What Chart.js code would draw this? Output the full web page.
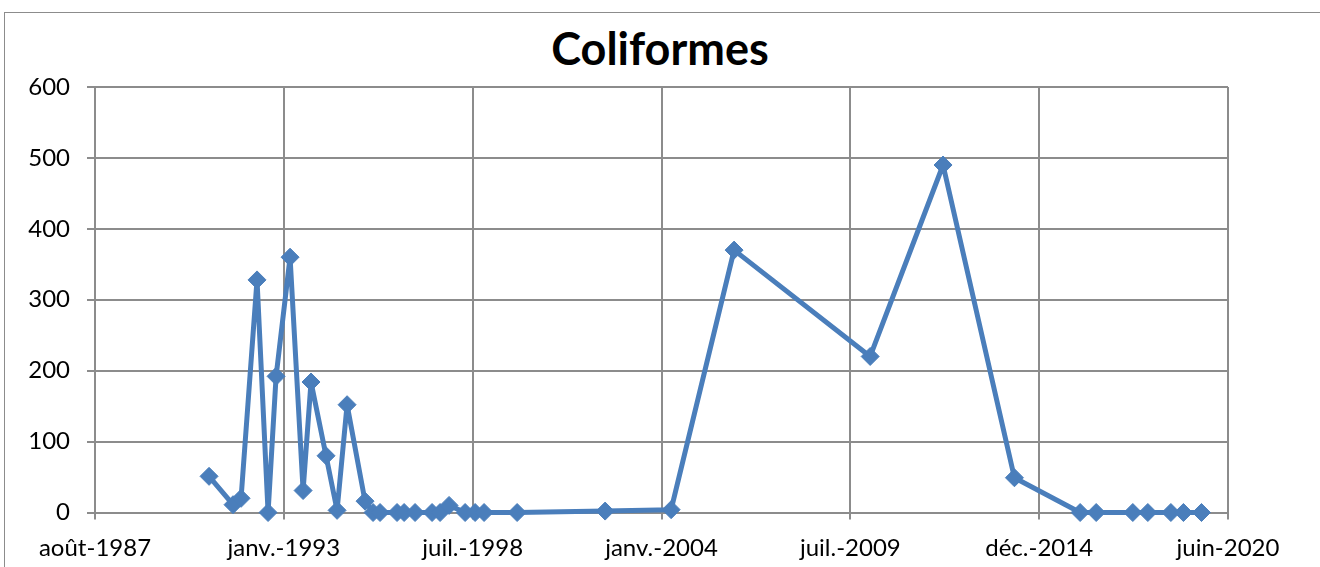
<!DOCTYPE html>
<html lang="fr">
<head>
<meta charset="utf-8">
<title>Coliformes</title>
<script src="https://cdn.jsdelivr.net/npm/chart.js@4"></script>
<style>
  html, body { margin: 0; padding: 0; background: #fff; overflow: hidden; }
  #wrap { position: relative; width: 1320px; height: 567px; }
  #frame { position: absolute; left: 4px; top: 12px; width: 1400px; height: 600px; border: 1.5px solid #8c8c8c; }
  #title { position: absolute; left: 0; width: 1320px; top: 21px; line-height: 54px; text-align: center;
           font-family: Lato, sans-serif; font-weight: bold; font-size: 45px; color: #000; }
  #chart { position: absolute; left: 0; top: 0; }
</style>
</head>
<body>
<div id="wrap">
  <div id="frame"></div>
  <div id="title">Coliformes</div>
  <canvas id="chart" width="1320" height="567"></canvas>
</div>
<script>
// sampling dates and coliform counts
const sampleDates = [
  '1990-12-01', '1991-08-12', '1991-11-05', '1992-04-22', '1992-08-17', '1992-11-10',
  '1993-04-07', '1993-08-23', '1993-11-15', '1994-04-23', '1994-08-18', '1994-12-02',
  '1995-06-10', '1995-09-03', '1995-11-16', '1996-05-14', '1996-07-28', '1996-11-21',
  '1997-05-20', '1997-08-13', '1997-11-16', '1998-05-05', '1998-08-19', '1998-11-22',
  '1999-11-07', '2002-05-27', '2004-04-25', '2006-02-21', '2010-02-01', '2012-03-14',
  '2014-04-09', '2016-03-05', '2016-08-22', '2017-09-14', '2018-02-20', '2018-10-22',
  '2019-03-04', '2019-09-11'
];
const coliformes = [
  51, 11, 20, 328, 0, 192,
  360, 31, 184, 80, 3, 152,
  16, 0, 0, 0, 0, 0,
  0, 0, 10, 0, 0, 0,
  0, 2, 4, 370, 220, 490,
  49, 0, 0, 0, 0, 0,
  0, 0
];
const moisFr = ['janv.', 'févr.', 'mars', 'avr.', 'mai', 'juin',
                'juil.', 'août', 'sept.', 'oct.', 'nov.', 'déc.'];
const yTicks = [0, 100, 200, 300, 400, 500, 600];

// spreadsheet-style day numbers
const EPOCH = Date.UTC(1899, 11, 30);
const DAY = 86400000;
function toSerial(s) {
  const [y, m, d] = s.split('-').map(Number);
  return (Date.UTC(y, m - 1, d) - EPOCH) / DAY;
}
function serialLabel(v) {
  const d = new Date(EPOCH + v * DAY);
  return moisFr[d.getUTCMonth()] + '-' + d.getUTCFullYear();
}

const points = sampleDates.map((d, i) => ({ x: toSerial(d), y: coliformes[i] }));
const gridColor = '#8c8c8c';
const tickFont = { family: 'Lato, sans-serif', size: 24 };

new Chart(document.getElementById('chart'), {
  type: 'line',
  data: {
    datasets: [{
      label: 'Coliformes',
      data: points,
      borderColor: '#4a7ebb',
      backgroundColor: '#4a7ebb',
      borderWidth: 5,
      borderJoinStyle: 'round',
      pointStyle: 'rectRot',
      pointRadius: 9,
      pointBackgroundColor: '#4a7ebb',
      pointBorderColor: '#4a7ebb',
      pointBorderWidth: 1,
      tension: 0,
      clip: false
    }]
  },
  options: {
    responsive: false,
    animation: false,
    devicePixelRatio: 1,
    layout: { padding: { top: 87, right: 92, left: 0, bottom: 0 } },
    plugins: {
      legend: { display: false },
      title: { display: false },
      tooltip: { enabled: false }
    },
    scales: {
      x: {
        type: 'linear',
        min: 32000,
        max: 44000,
        afterBuildTicks: s => {
          s.ticks = [];
          for (let v = 32000; v <= 44000; v += 2000) s.ticks.push({ value: v });
        },
        afterFit: s => { s.height = 54.5; },
        grid: { color: gridColor, lineWidth: 2, tickLength: 7, drawTicks: true },
        border: { color: gridColor, width: 2 },
        ticks: {
          callback: v => serialLabel(v),
          font: tickFont,
          color: '#000',
          padding: 14,
          maxRotation: 0,
          autoSkip: false
        }
      },
      y: {
        min: 0,
        max: 600,
        afterBuildTicks: s => { s.ticks = yTicks.map(v => ({ value: v })); },
        afterFit: s => { s.width = 95; },
        grid: { color: gridColor, lineWidth: 2, tickLength: 8 },
        border: { color: gridColor, width: 2 },
        ticks: { font: tickFont, color: '#000', padding: 17 }
      }
    }
  }
});
</script>
</body>
</html>
